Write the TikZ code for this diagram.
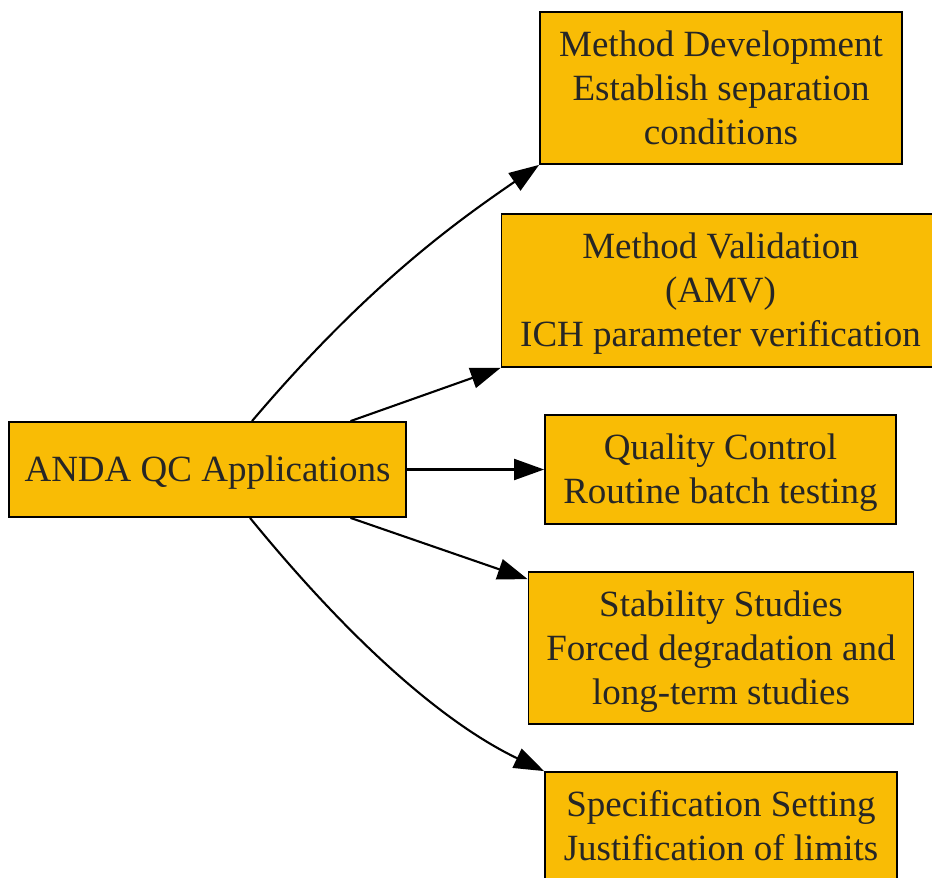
\documentclass[tikz,border=0pt]{standalone}
\usepackage{fontspec}
\setmainfont{Liberation Serif}
\usetikzlibrary{arrows.meta}
\definecolor{boxfill}{HTML}{F9BC05}
\definecolor{txt}{HTML}{262626}
\tikzset{
  box/.style={draw=black, line width=1.8pt, fill=boxfill, rectangle, inner sep=0pt,
    align=center, text=txt, text depth=1pt, font=\fontsize{37}{44}\selectfont},
  conn/.style={draw=black, line width=2.1pt, -{Triangle[length=30pt,width=21pt]}}
}
\begin{document}
\begin{tikzpicture}[x=1pt,y=-1pt]
\useasboundingbox (0,0) rectangle (932,878);
\clip (0,0) rectangle (932,878);
\node[box, minimum width=397pt, minimum height=95pt] (anda) at (207.5,469.5) {ANDA QC Applications};
\node[box, minimum width=362pt, minimum height=152pt] (md) at (721,88) {Method Development\\Establish separation\\conditions};
\node[box, minimum width=438pt, minimum height=153pt] (mv) at (720.5,290.5) {Method Validation\\(AMV)\\ICH parameter verification};
\node[box, minimum width=351pt, minimum height=109pt] (qc) at (720.5,469.5) {Quality Control\\Routine batch testing};
\node[box, minimum width=385pt, minimum height=152pt] (st) at (721,648) {Stability Studies\\Forced degradation and\\long-term studies};
\node[box, minimum width=352pt, minimum height=108pt] (ss) at (721,826) {Specification Setting\\Justification of limits};

\draw[conn] ([xshift=44.5pt]anda.north) .. controls (368.6,283.8) and (457.3,221.2) .. (md.south west);
\draw[conn] ([xshift=143pt]anda.north) -- (mv.south west);
\draw[conn] (anda.east) -- (qc.west);
\draw[conn] ([xshift=143pt]anda.south) -- ([yshift=-8pt]st.north west);
\draw[conn] ([xshift=42.5pt]anda.south) .. controls (364.5,658) and (455,728.6) .. (ss.north west);
\end{tikzpicture}
\end{document}
